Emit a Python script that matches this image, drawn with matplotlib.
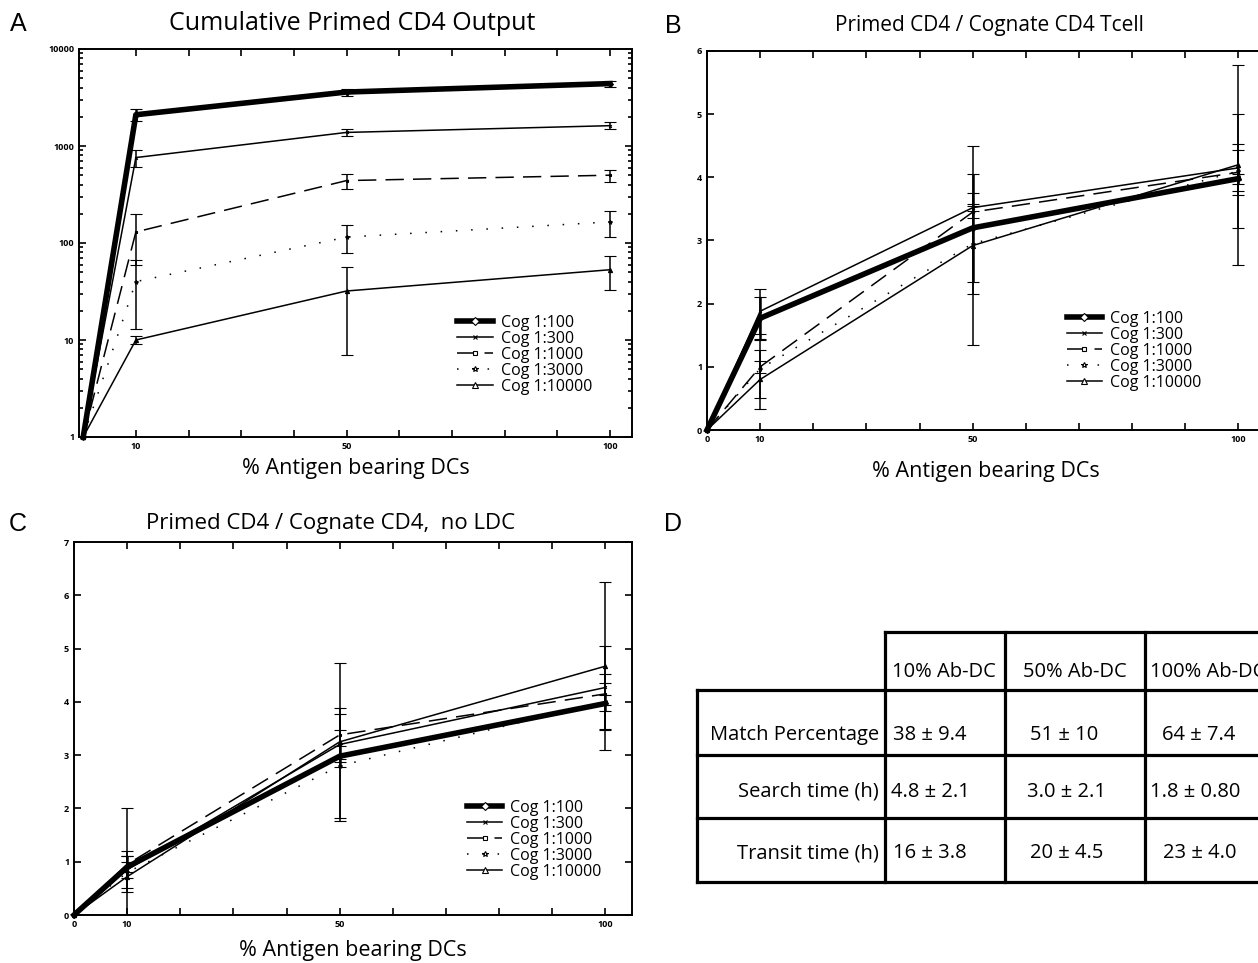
import matplotlib
matplotlib.use('Agg')
import matplotlib.pyplot as plt
from matplotlib.lines import Line2D

plt.rcParams['font.family'] = ['Open Sans', 'DejaVu Sans']

W, H = 1258, 963

pct_dc = [0, 10, 50, 100]
series_names = ['Cog 1:100', 'Cog 1:300', 'Cog 1:1000', 'Cog 1:3000', 'Cog 1:10000']

# panel A: cumulative primed CD4 output (log)
a_vals = [
    [1, 2100, 3600, 4400],
    [1, 760, 1380, 1620],
    [1, 130, 440, 500],
    [1, 40, 115, 165],
    [1, 10, 32, 53],
]
a_err = [
    [0, 300, 300, 300],
    [0, 150, 100, 130],
    [0, 70, 80, 70],
    [0, 27, 37, 50],
    [0, 1, 25, 20],
]

# panel B: primed / cognate
b_vals = [
    [0, 1.77, 3.2, 3.98],
    [0, 1.88, 3.52, 4.15],
    [0, 1.0, 3.45, 4.08],
    [0, 0.97, 2.95, 4.1],
    [0, 0.8, 2.92, 4.2],
]
b_err = [
    [0, 0.33, 0.85, 0.08],
    [0, 0.36, 0.06, 0.37],
    [0, 0.1, 0.1, 0.36],
    [0, 0.46, 0.8, 0.9],
    [0, 0.46, 1.57, 1.58],
]

# panel C: primed / cognate, no LDC
c_vals = [
    [0, 0.9, 2.98, 3.97],
    [0, 0.85, 3.2, 4.27],
    [0, 0.95, 3.38, 4.15],
    [0, 0.8, 2.8, 4.0],
    [0, 0.72, 3.25, 4.67],
]
c_err = [
    [0, 0.2, 0.2, 0.15],
    [0, 0.35, 0.28, 0.78],
    [0, 0.15, 0.5, 0.2],
    [0, 1.2, 0.98, 0.52],
    [0, 0.28, 1.48, 1.58],
]

# panel D table
col_heads = ['10% Ab-DC', '50% Ab-DC', '100% Ab-DC']
row_heads = ['Match Percentage', 'Search time (h)', 'Transit time (h)']
cells = [
    ['38 ± 9.4', '51 ± 10', '64 ± 7.4'],
    ['4.8 ± 2.1', '3.0 ± 2.1', '1.8 ± 0.80'],
    ['16 ± 3.8', '20 ± 4.5', '23 ± 4.0'],
]

styles = [
    dict(lw=4.0, ls='-', marker='D', ms=4),
    dict(lw=1.1, ls='-', marker='x', ms=3),
    dict(lw=1.1, ls=(0, (12, 6)), marker='s', ms=3),
    dict(lw=1.1, ls=(0, (1, 9)), marker='*', ms=4),
    dict(lw=1.1, ls='-', marker='^', ms=4),
]

fig = plt.figure(figsize=(W / 100, H / 100), dpi=100)


def px_axes(left, top, right, bottom):
    return fig.add_axes([left / W, 1 - bottom / H, (right - left) / W, (bottom - top) / H])


def draw_panel(ax, vals, errs):
    for v, e, st in zip(vals, errs, styles):
        eb = ax.errorbar(pct_dc, v, yerr=e, color='black', lw=st['lw'], ls=st['ls'],
                         marker=st['marker'], ms=st['ms'] - 1, mfc='black', mec='black', mew=0.8,
                         elinewidth=min(st['lw'], 1.8), capsize=4,
                         capthick=3 if st['lw'] > 2 else 1.8, clip_on=False)
        for cl in eb.lines[1]:
            cl.set_clip_on(True)
        for bl in eb.lines[2]:
            bl.set_clip_on(True)
    ax.tick_params(which='both', direction='in', top=True, right=True, labelsize=6.5, width=1.2)
    ax.tick_params(which='major', length=5)
    ax.tick_params(which='minor', length=3)
    for sp in ax.spines.values():
        sp.set_linewidth(1.4)


def set_xticks(ax, with_zero, pad):
    ticks = list(range(0 if with_zero else 10, 101, 10))
    labs = [str(t) if t in (0, 10, 50, 100) else '' for t in ticks]
    ax.set_xticks(ticks)
    ax.set_xticklabels(labs, fontweight='bold')
    ax.set_xlabel('% Antigen bearing DCs', fontsize=15.5, labelpad=pad)


def add_legend(ax, x, y):
    handles = [Line2D([], [], color='black', lw=st['lw'], ls=st['ls'], marker=st['marker'],
                      ms=st['ms'], mfc='white', mec='black', mew=0.8) for st in styles]
    ax.legend(handles, series_names, loc='upper left', bbox_to_anchor=(x, y), frameon=False,
              fontsize=11.5, handlelength=2.2, handletextpad=0.5, labelspacing=0.0,
              borderpad=0, numpoints=1)


# A
axA = px_axes(79, 49, 632, 437)
draw_panel(axA, a_vals, a_err)
axA.set_yscale('log')
axA.set_ylim(1, 10000)
axA.set_xlim(-0.8, 104.2)
axA.set_yticks([1, 10, 100, 1000, 10000])
axA.set_yticklabels(['1', '10', '100', '1000', '10000'], fontweight='bold')
set_xticks(axA, False, 5)
add_legend(axA, 0.67, 0.335)

# B
axB = px_axes(707, 51, 1265, 430)
draw_panel(axB, b_vals, b_err)
axB.set_xlim(0, 105)
axB.set_ylim(0, 6)
axB.set_yticks(range(0, 7))
axB.set_yticklabels([str(i) for i in range(7)], fontweight='bold')
set_xticks(axB, True, 12)
add_legend(axB, 0.63, 0.335)

# C
axC = px_axes(74, 542, 632, 915)
draw_panel(axC, c_vals, c_err)
axC.set_xlim(0, 105)
axC.set_ylim(0, 7)
axC.set_yticks(range(0, 8))
axC.set_yticklabels([str(i) for i in range(8)], fontweight='bold')
set_xticks(axC, True, 8)
add_legend(axC, 0.69, 0.33)

# titles and panel letters
fig.text(352 / W, 1 - 24 / H, 'Cumulative Primed CD4 Output', ha='center', va='center', fontsize=18)
fig.text(989 / W, 1 - 26 / H, 'Primed CD4 / Cognate CD4 Tcell', ha='center', va='center', fontsize=15)
fig.text(331 / W, 1 - 523 / H, 'Primed CD4 / Cognate CD4,  no LDC', ha='center', va='center', fontsize=16)
for letter, lx, ly in [('A', 18, 24), ('B', 673, 26), ('C', 18, 524), ('D', 673, 524)]:
    fig.text(lx / W, 1 - ly / H, letter, ha='center', va='center', fontsize=18,
             family='Liberation Sans')

# D table on an overlay axes in pixel coordinates
axD = fig.add_axes([0, 0, 1, 1])
axD.set_xlim(0, W)
axD.set_ylim(H, 0)
axD.axis('off')
lw_t = 2.3
col_x = [885, 1005, 1145]
row_y = [690, 755, 818, 882]
axD.plot([885, W], [632, 632], color='black', lw=lw_t)
for cx in col_x:
    axD.plot([cx, cx], [632, 882], color='black', lw=lw_t)
axD.plot([697, 697], [690, 882], color='black', lw=lw_t)
for ry in row_y:
    axD.plot([697, W], [ry, ry], color='black', lw=lw_t)

head_x = [944, 1075, 1150]
for i, h in enumerate(col_heads):
    axD.text(head_x[i], 672, h, ha='center' if i < 2 else 'left', va='center', fontsize=14.5)
row_text_y = [735, 792, 853]
cell_x = [[893, 1030, 1162], [891, 1027, 1150], [893, 1030, 1163]]
for r, rh in enumerate(row_heads):
    axD.text(879, row_text_y[r], rh, ha='right', va='center', fontsize=14.5)
    for c in range(3):
        axD.text(cell_x[r][c], row_text_y[r], cells[r][c], ha='left', va='center', fontsize=14.5)

fig.savefig('out.png', dpi=100)
